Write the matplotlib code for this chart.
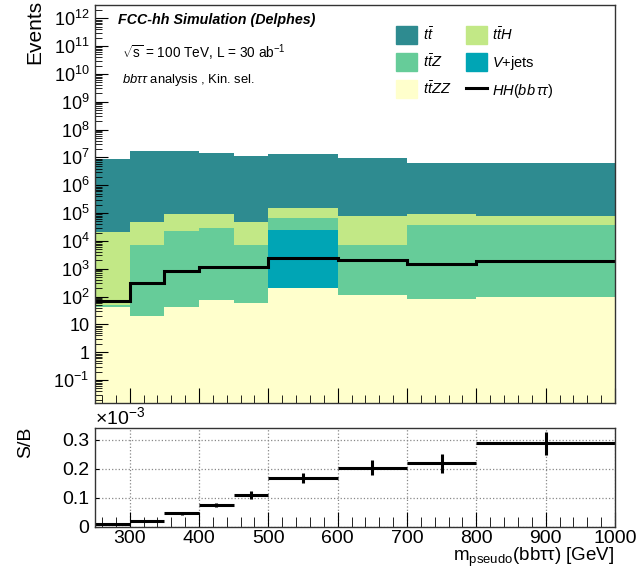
import numpy as np
import matplotlib.pyplot as plt
from matplotlib.patches import Patch
from matplotlib.lines import Line2D
from matplotlib.ticker import FixedLocator, MultipleLocator, LogLocator, NullFormatter

plt.rcParams['font.family'] = ['Liberation Sans', 'DejaVu Sans']
plt.rcParams['mathtext.fontset'] = 'custom'
plt.rcParams['mathtext.rm'] = 'Liberation Sans'
plt.rcParams['mathtext.it'] = 'Liberation Sans:italic'
plt.rcParams['mathtext.bf'] = 'Liberation Sans:bold'

# bin edges in m_pseudo [GeV]
edges = [250, 300, 350, 400, 450, 500, 600, 700, 800, 1000]

# event yields per bin
ttzz = [43, 20, 41, 78, 60, 210, 117, 79, 98]
vjets = [0, 0, 0, 0, 0, 2.4e4, 0, 0, 0]
ttz = [7, 7.3e3, 2.2e4, 2.9e4, 7.3e3, 4.4e4, 7.2e3, 3.8e4, 3.8e4]
tth = [2.1e4, 4.0e4, 6.7e4, 6.0e4, 4.0e4, 8.2e4, 7.1e4, 5.5e4, 4.3e4]
tt = [8.9e6, 1.7e7, 1.7e7, 1.4e7, 1.1e7, 1.35e7, 9.5e6, 6.2e6, 6.2e6]
signal = [72, 310, 830, 1150, 1150, 2350, 2130, 1510, 1900]

# S/B (x 1e-3) and its uncertainty
sb = [0.009, 0.018, 0.046, 0.075, 0.110, 0.169, 0.204, 0.219, 0.288]
sb_err = [0.001, 0.002, 0.004, 0.008, 0.015, 0.018, 0.026, 0.033, 0.040]

procs = [ttzz, vjets, ttz, tth, tt]
colors = ['#FFFFCC', '#00A5B5', '#66CC99', '#C2E886', '#2E8B90']
labels = [r'$t\bar{t}ZZ$', r'$V$+jets', r'$t\bar{t}Z$', r'$t\bar{t}H$', r'$t\bar{t}$']

fig = plt.figure(figsize=(6.39, 5.73), dpi=100)
W, H = 639, 573
ax1 = fig.add_axes([95 / W, 1 - 403 / H, 520 / W, 398 / H])
ax2 = fig.add_axes([95 / W, 1 - 526.7 / H, 520 / W, 98.4 / H])

# stacked backgrounds
low = np.full(len(tt), 1e-3)
for vals, c in zip(procs, colors):
    up = low + np.array(vals, dtype=float)
    ax1.stairs(up, edges, baseline=low, fill=True, color=c, lw=0)
    low = up
ax1.stairs(signal, edges, baseline=None, color='k', lw=2.2)

ax1.set_yscale('log')
ax1.set_xlim(250, 1000)
ax1.set_ylim(0.015, 3e12)
dec = [1e-1, 1, 10] + [10.0 ** k for k in range(2, 13)]
dec_lab = [r'$10^{-1}$', '1', '10'] + [r'$10^{%d}$' % k for k in range(2, 13)]
ax1.yaxis.set_major_locator(FixedLocator(dec))
ax1.set_yticklabels(dec_lab)
ax1.yaxis.set_minor_locator(LogLocator(base=10, subs=np.arange(2, 10), numticks=50))
ax1.yaxis.set_minor_formatter(NullFormatter())
ax1.xaxis.set_major_locator(MultipleLocator(100))
ax1.xaxis.set_minor_locator(MultipleLocator(20))
ax1.tick_params(axis='x', which='major', direction='in', length=11, labelbottom=False)
ax1.tick_params(axis='x', which='minor', direction='in', length=6)
ax1.tick_params(axis='y', which='major', direction='in', length=9, labelsize=13, pad=4)
ax1.tick_params(axis='y', which='minor', direction='in', length=5)
for s in ax1.spines.values():
    s.set_linewidth(1.0)
    s.set_color('#333333')

handles = [Patch(color=colors[4]), Patch(color=colors[2]), Patch(color=colors[0]),
           Patch(color=colors[3]), Patch(color=colors[1]), Line2D([], [], color='k', lw=2.2)]
hlabels = [labels[4], labels[2], labels[0], labels[3], labels[1], r'$HH(bb\,\tau\tau)$']
fig.legend(handles, hlabels, ncol=2, frameon=False, loc='upper left',
           bbox_to_anchor=(389 / W, 1 - 19 / H), fontsize=10.5, borderpad=0,
           handlelength=1.45, handleheight=1.5, labelspacing=0.62,
           handletextpad=0.35, columnspacing=1.0)

fig.text(118 / W, 1 - 20 / H, 'FCC-hh Simulation (Delphes)', fontsize=10.3,
         weight='bold', style='italic', va='center')
fig.text(122 / W, 1 - 53 / H, r'$\sqrt{\mathrm{s}}$ = 100 TeV, L = 30 ab$^{-1}$',
         fontsize=9.8, va='center')
fig.text(122 / W, 1 - 80 / H, r'$bb\tau\tau$ analysis , Kin. sel.',
         fontsize=9.4, va='center')
fig.text(35 / W, 1.0, 'Events', rotation=90, fontsize=15, ha='center', va='top')

# ratio panel
centers = [(a + b) / 2 for a, b in zip(edges[:-1], edges[1:])]
halfw = [(b - a) / 2 for a, b in zip(edges[:-1], edges[1:])]
ax2.errorbar(centers, sb, xerr=halfw, yerr=sb_err, fmt='none', ecolor='k',
             elinewidth=2.2, capsize=0)
ax2.set_xlim(250, 1000)
ax2.set_ylim(0, 0.34)
ax2.xaxis.set_major_locator(MultipleLocator(100))
ax2.xaxis.set_minor_locator(MultipleLocator(20))
ax2.yaxis.set_major_locator(FixedLocator([0, 0.1, 0.2, 0.3]))
ax2.set_yticklabels(['0', '0.1', '0.2', '0.3'])
ax2.grid(True, which='major', linestyle=':', color='#888888', lw=0.9)
ax2.tick_params(axis='x', which='major', direction='in', length=11, labelsize=14, pad=2.5)
ax2.tick_params(axis='x', which='minor', direction='in', length=7)
ax2.tick_params(axis='y', which='major', direction='in', length=3, labelsize=14, pad=4)
for s in ax2.spines.values():
    s.set_linewidth(1.0)
    s.set_color('#333333')

fig.text(95 / W, 1 - 428 / H, r'$\times$10$^{-3}$', fontsize=14, va='bottom')
fig.text(26 / W, 1 - 427 / H, 'S/B', rotation=90, fontsize=14, ha='center', va='top')
fig.text(614 / W, 1 - 546 / H, 'm$_{\\mathrm{pseudo}}$(bbττ) [GeV]', fontsize=13.5,
         ha='right', va='top')

fig.savefig('out.png', dpi=100)
